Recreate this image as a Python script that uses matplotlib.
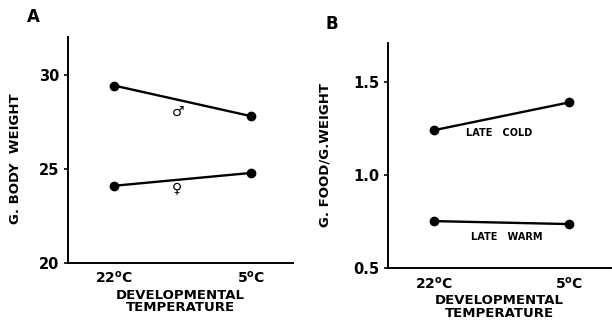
import matplotlib
matplotlib.use("Agg")
import matplotlib.pyplot as plt

temps = ["22$\\mathregular{^o}$C", "5$\\mathregular{^o}$C"]
male_weight = [29.42, 27.8]
female_weight = [24.1, 24.78]
late_cold = [1.24, 1.389]
late_warm = [0.753, 0.737]

plt.rcParams['font.family'] = ['DejaVu Sans']
plt.rcParams['font.weight'] = 'bold'

fig = plt.figure(figsize=(6.12, 3.25), dpi=100)
fig.patch.set_facecolor('white')

axA = fig.add_axes([0.111, 0.191, 0.368, 0.695])
axB = fig.add_axes([0.6335, 0.1745, 0.3645, 0.6945])

x = [0, 1]
style = dict(color='black', lw=1.7, marker='o', ms=6, mfc='black', mec='black')


def setup(ax, ylim, yticks, ylabels, ylab):
    ax.set_xlim(-0.34, 1.31)
    ax.set_ylim(*ylim)
    for s in ['top', 'right']:
        ax.spines[s].set_visible(False)
    for s in ['left', 'bottom']:
        ax.spines[s].set_linewidth(1.4)
    ax.set_xticks(x)
    ax.set_xticklabels(temps, fontsize=10, fontweight='bold')
    ax.tick_params(axis='x', length=0, pad=5)
    ax.set_yticks(yticks)
    ax.set_yticklabels(ylabels, fontsize=10.5, fontweight='bold')
    ax.tick_params(axis='y', length=3, width=1.2, pad=3)
    ax.set_ylabel(ylab, fontsize=9.5, fontweight='bold')
    ax.set_xlabel("DEVELOPMENTAL\nTEMPERATURE", fontsize=9.5, fontweight='bold',
                  linespacing=0.95, labelpad=2)


# panel A
axA.plot(x, male_weight, **style)
axA.plot(x, female_weight, **style)
setup(axA, (20, 32), [20, 25, 30], ["20", "25", "30"], "G. BODY  WEIGHT")
axA.yaxis.set_label_coords(-0.205, 0.46)
axA.text(0.47, 28.0, "\u2642", ha='center', va='center', fontsize=10, fontweight='normal')
axA.text(0.46, 23.95, "\u2640", ha='center', va='center', fontsize=10, fontweight='normal')
fig.text(0.054, 0.947, "A", fontsize=12, fontweight='bold', ha='center', va='center')

# panel B
axB.plot(x, late_cold, **style)
axB.plot(x, late_warm, **style)
setup(axB, (0.5, 1.71), [0.5, 1.0, 1.5], ["0.5", "1.0", "1.5"], "G. FOOD/G.WEIGHT")
axB.yaxis.set_label_coords(-0.25, 0.5)
axB.text(0.485, 1.223, "LATE   COLD", ha='center', va='center', fontsize=7, fontweight='bold')
axB.text(0.54, 0.669, "LATE   WARM", ha='center', va='center', fontsize=7, fontweight='bold')
fig.text(0.542, 0.926, "B", fontsize=12, fontweight='bold', ha='center', va='center')

fig.savefig("out.png", dpi=100, facecolor='white')
